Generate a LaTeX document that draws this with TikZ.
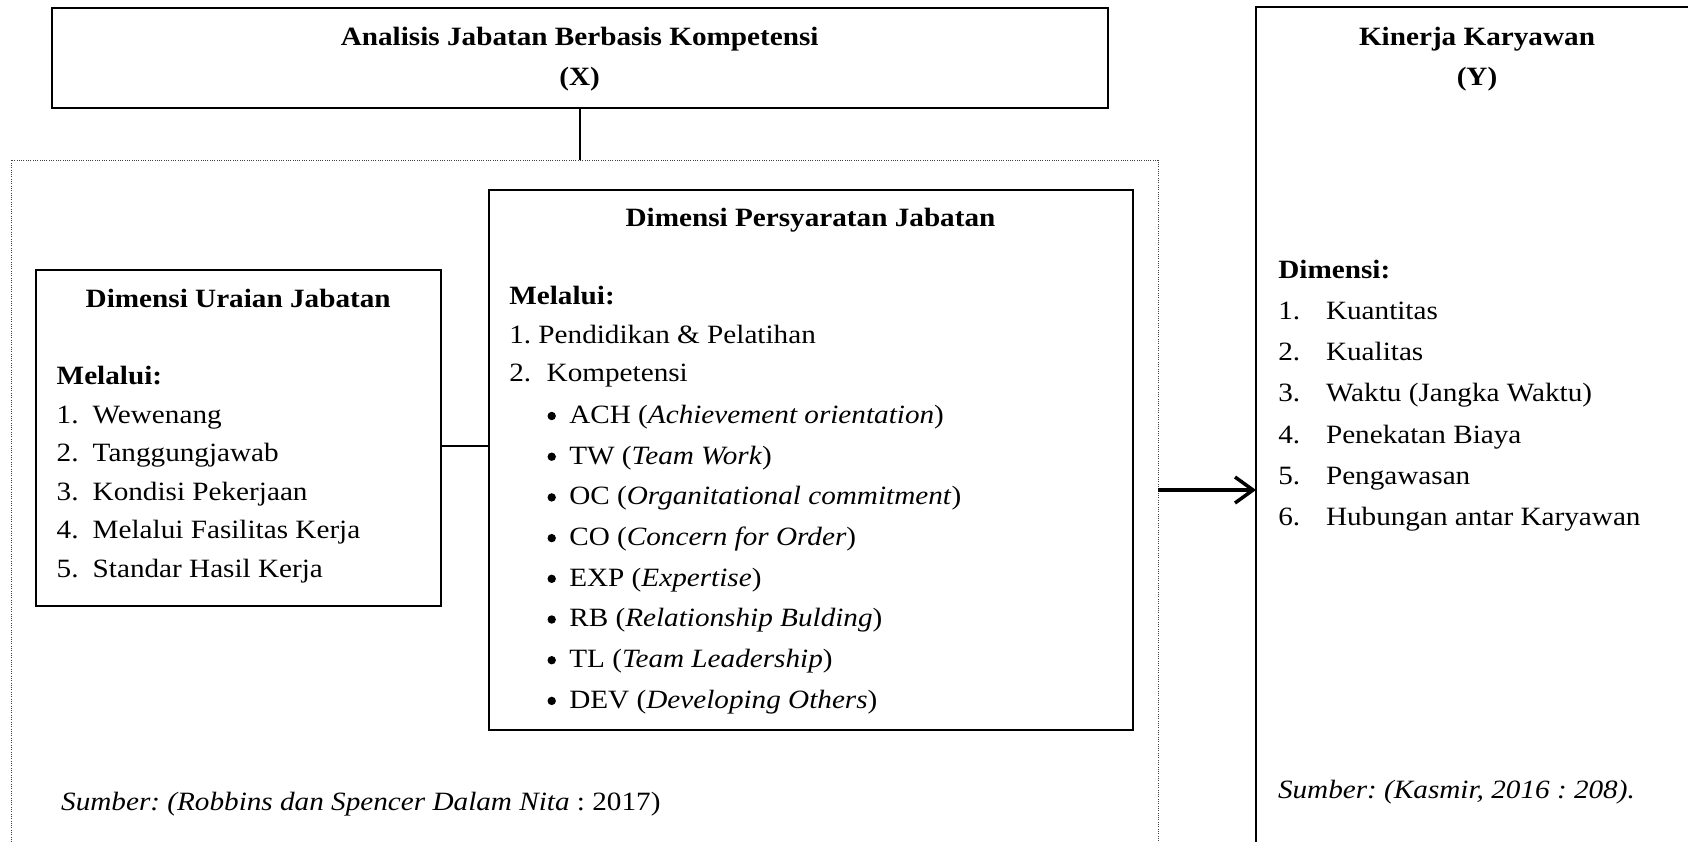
\documentclass[tikz,border=0pt]{standalone}
\usepackage{fontspec}
\setmainfont{Liberation Serif}[FakeStretch=1.106]
\usetikzlibrary{arrows.meta}
\newcommand\basefs{\fontsize{26.4pt}{30pt}\selectfont\frenchspacing}
\begin{document}
\begin{tikzpicture}[x=1pt,y=-1pt,
  every node/.style={inner sep=0pt, outer sep=0pt, font=\basefs},
  box/.style={draw, line width=2pt, inner sep=0pt, outer sep=0pt},
  dotbox/.style={draw=black!75, line width=1pt, dash pattern=on 1pt off 1.3pt},
  conn/.style={line width=1.8pt},
  lt/.style={anchor=base west},
  ct/.style={anchor=base, font=\basefs\bfseries},
  bt/.style={anchor=base west, font=\basefs\bfseries},
  dotmark/.style={circle, fill=black, minimum size=8.4pt},
]
\useasboundingbox (0,0) rectangle (1688,841);
\clip (0,0) rectangle (1688,841);
\fill[white] (0,0) rectangle (1688,841);

% boxes
\node[box, minimum width=1056pt, minimum height=100.2pt] (X) at (579.7,57.6) {};
\node[dotbox, minimum width=1147pt, minimum height=760pt] (dot) at (584.5,540) {};
\node[box, minimum width=442pt, minimum height=900pt] (Y) at (1477,457.3) {};
\node[box, minimum width=405pt, minimum height=335.7pt] (U) at (238.2,437.85) {};
\node[box, minimum width=644pt, minimum height=540pt] (P) at (810.5,460) {};

% connectors
\draw[conn] (X.south) -- (X.south |- dot.north);
\coordinate (cy) at (0,445.7);
\draw[conn] (U.east |- cy) -- (P.west |- cy);
\coordinate (ay) at (0,490);
\draw[line width=3.5pt, -{Straight Barb[length=18pt,width=26pt]}] (dot.east |- ay) -- (Y.west |- ay);

% top box text
\node[ct] (xt1) at (579.7,45) {Analisis Jabatan Berbasis Kompetensi};
\node[ct] (xt2) at (579.7,85) {(X)};

% Kinerja text
\node[ct] (yt1) at (1477,45) {Kinerja Karyawan};
\node[ct] (yt2) at (1477,85) {(Y)};
\node[bt] (ydim) at (1278.3,278.3) {Dimensi:};
\foreach \t [count=\i] in {Kuantitas, Kualitas, {Waktu (Jangka Waktu)}, Penekatan Biaya, Pengawasan, Hubungan antar Karyawan} {
  \node[lt] (yn\i) at (1278.3,{319.3+41.3*(\i-1)}) {\i.};
  \node[lt] (yi\i) at (1326,{319.3+41.3*(\i-1)}) {\t};
}
\node[lt] (ysrc) at (1278,798.3) {\textit{Sumber: (Kasmir, 2016 : 208).}};

% Uraian text
\node[ct] (ut) at (238.2,307.7) {Dimensi Uraian Jabatan};
\node[bt] (um) at (56.7,384.3) {Melalui:};
\foreach \t [count=\i] in {Wewenang, Tanggungjawab, Kondisi Pekerjaan, Melalui Fasilitas Kerja, Standar Hasil Kerja} {
  \node[lt] (un\i) at (56.7,{423.3+38.5*(\i-1)}) {\i.};
  \node[lt] (ui\i) at (92.7,{423.3+38.5*(\i-1)}) {\t};
}

% Persyaratan text
\node[ct] (pt) at (810.5,226.7) {Dimensi Persyaratan Jabatan};
\node[bt] (pm) at (509.3,304) {Melalui:};
\node[lt] (p1) at (509.3,343.3) {1. Pendidikan \& Pelatihan};
\node[lt] (p2n) at (509.3,381.7) {2.};
\node[lt] (p2) at (546.7,381.7) {Kompetensi};
\foreach \t [count=\i] in {{ACH (\textit{Achievement orientation})}, {TW (\textit{Team Work})}, {OC (\textit{Organitational commitment})}, {CO (\textit{Concern for Order})}, {EXP (\textit{Expertise})}, {RB (\textit{Relationship Bulding})}, {TL (\textit{Team Leadership})}, {DEV (\textit{Developing Others})}} {
  \node[dotmark] (pb\i) at (551.7,{416+40.7*(\i-1)}) {};
  \node[lt] (pi\i) at (569.3,{423.3+40.7*(\i-1)}) {\t};
}

% source left
\node[lt] (src) at (61.2,810.5) {\textit{Sumber: (Robbins dan Spencer Dalam Nita} : 2017)};
\end{tikzpicture}
\end{document}
